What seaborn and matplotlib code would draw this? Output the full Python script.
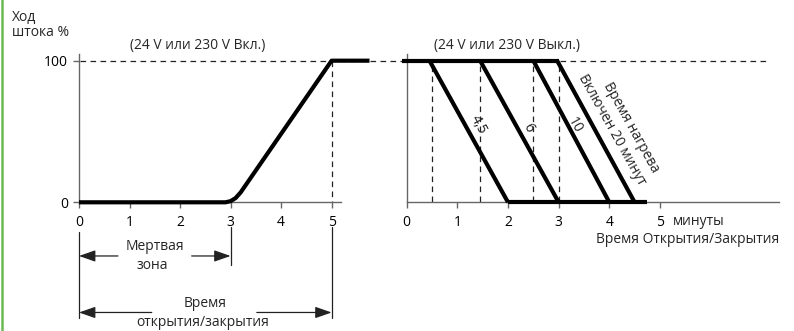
import matplotlib
matplotlib.use('Agg')
import matplotlib.pyplot as plt
import seaborn as sns
import pandas as pd
from matplotlib.lines import Line2D

# ---------------- data ----------------
open_x = [0, 2.9, 3.0, 3.1, 3.2, 5.0, 5.75]          # opening curve (Вкл.)
open_y = [0, 0, 0.8, 3, 7, 100, 100]

close_top_x = [-0.1, 3.0]                              # closing: top plateau
close_bottom_x = [2.0, 4.75]                           # closing: bottom plateau
close_start = [0.45, 1.45, 2.5, 2.97]                  # where each closing line leaves 100 %
close_end = [2.0, 3.0, 4.0, 4.5]                       # where it reaches 0 %
close_labels = ["4,5", "6", "10"]
close_dash_x = [0.5, 1.45, 2.5, 3.0]

x_ticks = [0, 1, 2, 3, 4, 5]
y_ticks = [0, 100]

# ---------------- figure ----------------
sns.set_theme(style='white')
plt.rcParams['font.family'] = ['Open Sans', 'DejaVu Sans']

W, H = 794, 331
fig = plt.figure(figsize=(W / 100, H / 100), dpi=100)


def px2fig(l, t, r, b):
    return [l / W, 1 - b / H, (r - l) / W, (b - t) / H]


axL = fig.add_axes(px2fig(79, 53.6, 340.7, 202.3))
axR = fig.add_axes(px2fig(406.7, 53.6, 779, 202.3))

axL.set_xlim(0, 5.18)
axR.set_xlim(0, 7.35)
for ax in (axL, axR):
    ax.set_ylim(0, 105)
    for s in ('top', 'right'):
        ax.spines[s].set_visible(False)
    for s in ('left', 'bottom'):
        ax.spines[s].set_color('#666666')
        ax.spines[s].set_linewidth(1.0)
    ax.set_xticks(x_ticks)
    ax.tick_params(axis='x', bottom=True, direction='out', length=4, width=1,
                   color='#666666', pad=5.3, labelsize=10, labelcolor='black')
    ax.patch.set_alpha(0)

axL.set_yticks(y_ticks)
axL.tick_params(axis='y', left=True, direction='out', length=4, width=1,
                color='#666666', pad=4, labelsize=10, labelcolor='black')
axR.set_yticks([])

THICK = dict(color='black', linewidth=3.0, solid_capstyle='butt', solid_joinstyle='round')
DASH = dict(color='#222222', linewidth=0.9, linestyle=(0, (4.5, 3.5)))

# dashed reference lines
axL.plot([0.02, 13.62], [100, 100], clip_on=False, zorder=1, **DASH)
axL.plot([5, 5], [100, 0], zorder=1, **DASH)
for xd in close_dash_x:
    axR.plot([xd, xd], [96, 0], zorder=1, **DASH)

# opening curve
sns.lineplot(x=open_x, y=open_y, ax=axL, sort=False, estimator=None,
             clip_on=False, zorder=3, **THICK)

# closing curves
sns.lineplot(x=close_top_x, y=[100, 100], ax=axR, sort=False, estimator=None,
             clip_on=False, zorder=3, **THICK)
sns.lineplot(x=close_bottom_x, y=[0, 0], ax=axR, sort=False, estimator=None,
             clip_on=False, zorder=3, **THICK)
for xs, xe in zip(close_start, close_end):
    sns.lineplot(x=[xs, xe], y=[100, 0], ax=axR, sort=False, estimator=None,
                 clip_on=False, zorder=3, **THICK)

FS = 10
# titles
axL.text(2.35, 111, "(24 V или 230 V Вкл.)", ha='center', va='center', fontsize=FS)
axR.text(1.98, 111, "(24 V или 230 V Выкл.)", ha='center', va='center', fontsize=FS)
fig.text(12 / W, 1 - 18 / H, "Ход", ha='left', va='center', fontsize=FS)
fig.text(12 / W, 1 - 33 / H, "штока %", ha='left', va='center', fontsize=FS)

# rotated curve labels
ROT = -61
axR.text(1.41, 54.6, close_labels[0], rotation=ROT, rotation_mode='anchor',
         ha='center', va='center', fontsize=FS)
axR.text(2.39, 52.5, close_labels[1], rotation=ROT, rotation_mode='anchor',
         ha='center', va='center', fontsize=FS)
axR.text(3.32, 54.6, close_labels[2], rotation=ROT, rotation_mode='anchor',
         ha='center', va='center', fontsize=FS)
axR.text(4.43, 52.5, "Время нагрева", rotation=ROT, rotation_mode='anchor',
         ha='center', va='center', fontsize=FS)
axR.text(4.05, 51.0, "Включен 20 минут", rotation=ROT, rotation_mode='anchor',
         ha='center', va='center', fontsize=FS)

# right axis unit labels
axR.text(5.26, -13.4, "минуты", ha='left', va='center', fontsize=FS, clip_on=False)
axR.text(7.35, -26.6, "Время Открытия/Закрытия", ha='right', va='center',
         fontsize=FS, clip_on=False)

# dimension lines below left panel
LN = dict(color='#222222', linewidth=0.9, clip_on=False)
axL.plot([0, 0], [-20.8, -81.5], **LN)
axL.plot([3, 3], [-17.2, -44.3], **LN)
axL.plot([5, 5], [-17.4, -81.5], **LN)

AP = dict(arrowstyle='-|>,head_length=1.0,head_width=0.35', color='#222222',
          lw=0.9, shrinkA=0, shrinkB=0, mutation_scale=10)
y1 = -37.9
axL.annotate("", xy=(0, y1), xytext=(0.77, y1), arrowprops=AP, annotation_clip=False)
axL.annotate("", xy=(3, y1), xytext=(2.23, y1), arrowprops=AP, annotation_clip=False)
axL.text(1.5, -31.4, "Мертвая", ha='center', va='center', fontsize=FS)
axL.text(1.46, -44.8, "зона", ha='center', va='center', fontsize=FS)

y2 = -77.8
axL.annotate("", xy=(0, y2), xytext=(1.44, y2), arrowprops=AP, annotation_clip=False)
axL.annotate("", xy=(5, y2), xytext=(3.52, y2), arrowprops=AP, annotation_clip=False)
axL.text(2.49, -71.3, "Время", ha='center', va='center', fontsize=FS)
axL.text(2.45, -85.0, "открытия/закрытия", ha='center', va='center', fontsize=FS)

# green border on the left edge
fig.add_artist(Line2D([2.2 / W, 2.2 / W], [0, 1], transform=fig.transFigure,
                      color='#6ab955', linewidth=1.8))

fig.savefig('out.png', dpi=100)
